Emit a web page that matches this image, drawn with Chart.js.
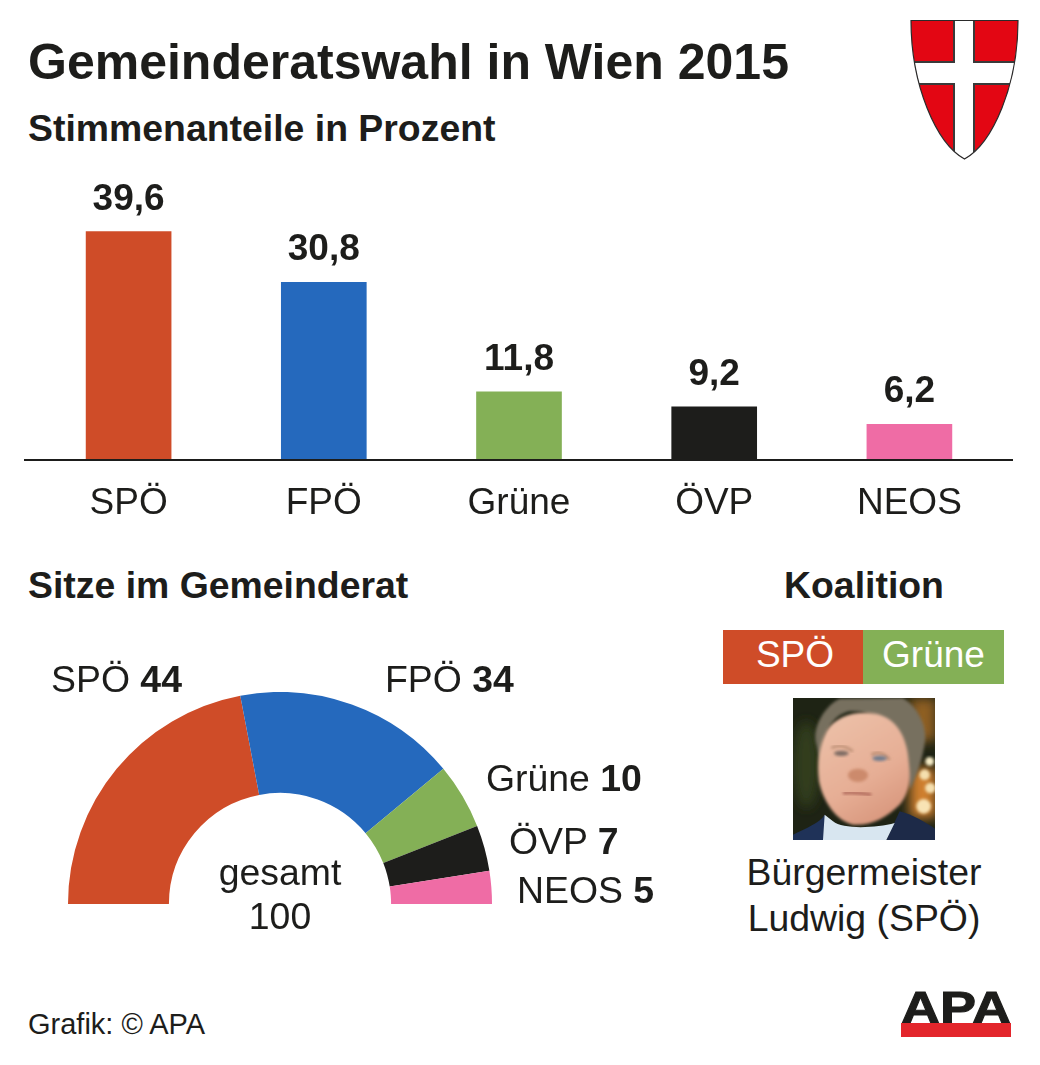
<!DOCTYPE html>
<html lang="de">
<head>
<meta charset="utf-8">
<title>Gemeinderatswahl in Wien 2015</title>
<script src="https://cdn.jsdelivr.net/npm/chart.js@4/dist/chart.umd.min.js"></script>
<style>
  html, body { margin: 0; padding: 0; background: #fff; }
  #page { position: relative; width: 1040px; height: 1065px; overflow: hidden; font-family: "Liberation Sans", Arial, sans-serif; color: #1d1d1b; }
  #page canvas { position: absolute; }
  #page svg { position: absolute; left: 0; top: 0; }
  .t { position: absolute; line-height: 1; white-space: nowrap; font-size: 37.4px; }
  .h { font-weight: bold; }
  .c { text-align: center; }
  .k { color: #fff; height: 54px; line-height: 50px; text-align: center; font-size: 37px; }
</style>
</head>
<body>
<div id="page">
  <svg width="1040" height="1065" viewBox="0 0 1040 1065">
    <defs>
      <clipPath id="shieldClip"><path d="M911 20.5H1018C1018 85 993 143 964.5 159C936 143 911 85 911 20.5Z"/></clipPath>
      <clipPath id="photoClip"><rect width="426" height="426"/></clipPath>
      <filter id="soft" x="-20%" y="-20%" width="140%" height="140%"><feGaussianBlur stdDeviation="4"/></filter>
      <filter id="softer" x="-40%" y="-40%" width="180%" height="180%"><feGaussianBlur stdDeviation="18"/></filter>
      <linearGradient id="skin" x1="0.2" y1="0" x2="0.7" y2="1">
        <stop offset="0" stop-color="#ecc0a8"/>
        <stop offset="0.6" stop-color="#e6ae95"/>
        <stop offset="1" stop-color="#d8967c"/>
      </linearGradient>
    </defs>
    <!-- wappen -->
    <g clip-path="url(#shieldClip)">
      <rect x="905" y="15" width="120" height="150" fill="#e30613"/>
      <rect x="953" y="15" width="22" height="150" fill="#3a3a3a"/>
      <rect x="905" y="61" width="120" height="24" fill="#3a3a3a"/>
      <rect x="955" y="15" width="18" height="150" fill="#fff"/>
      <rect x="905" y="63" width="120" height="20" fill="#fff"/>
    </g>
    <path d="M911 20.5H1018C1018 85 993 143 964.5 159C936 143 911 85 911 20.5Z" fill="none" stroke="#2a2a2a" stroke-width="1.2"/>
    <!-- foto -->
    <g transform="translate(793 698) scale(0.3333)" clip-path="url(#photoClip)">
      <rect width="426" height="426" fill="#1e2314"/>
      <ellipse cx="40" cy="200" rx="40" ry="130" fill="#313d1c" filter="url(#softer)"/>
      <rect x="350" y="0" width="80" height="130" fill="#8f5f24" filter="url(#softer)"/>
      <rect x="350" y="210" width="80" height="150" fill="#cf7f2e" filter="url(#softer)"/>
      <circle cx="410" cy="190" r="13" fill="#f6ecc6" filter="url(#soft)"/>
      <circle cx="395" cy="230" r="16" fill="#f5dfae" filter="url(#soft)"/>
      <circle cx="412" cy="270" r="16" fill="#f5dfae" filter="url(#soft)"/>
      <circle cx="392" cy="325" r="22" fill="#f8e3b4" filter="url(#soft)"/>
      <path d="M0 426V410C40 390 80 375 95 350L130 426Z" fill="#1f3258"/>
      <path d="M280 426L320 340C360 350 400 375 426 392V426Z" fill="#1d2a48"/>
      <path d="M95 350L90 426H280L305 375C250 390 150 395 120 370Z" fill="#d8e6f0"/>
      <path d="M68 130C60 80 100 20 140 2L330 0C380 30 402 90 396 130C390 180 372 230 352 275L320 150C300 70 230 35 170 40C120 50 90 100 82 190Z" fill="#77705f" filter="url(#soft)"/>
      <path d="M100 100C130 50 200 35 260 50C320 70 345 130 348 200C355 250 345 290 320 320C280 360 230 385 180 380C130 370 90 310 78 250C70 190 80 140 100 100Z" fill="url(#skin)" filter="url(#soft)"/>
      <path d="M115 150Q145 135 180 160" stroke="#b78a70" stroke-width="7" fill="none" filter="url(#soft)"/>
      <path d="M235 170Q265 155 290 185" stroke="#b78a70" stroke-width="7" fill="none" filter="url(#soft)"/>
      <ellipse cx="145" cy="166" rx="22" ry="8" fill="#7b6a62" filter="url(#soft)"/>
      <ellipse cx="260" cy="181" rx="22" ry="8" fill="#6f7a8c" filter="url(#soft)"/>
      <ellipse cx="195" cy="232" rx="30" ry="20" fill="#cc8a6c" filter="url(#soft)"/>
      <path d="M150 285Q190 282 235 290" stroke="#a55c50" stroke-width="7" fill="none" filter="url(#soft)"/>
    </g>
    <!-- logo -->
    <text x="901" y="1023" font-family="Liberation Sans" font-weight="bold" font-size="45" textLength="110" lengthAdjust="spacingAndGlyphs" fill="#1d1d1b" stroke="#1d1d1b" stroke-width="1">APA</text>
    <rect x="901" y="1023" width="110" height="14" fill="#e3262c"/>
  </svg>

  <div class="t h" style="left:28px;top:37px;font-size:50px">Gemeinderatswahl in Wien 2015</div>
  <div class="t h" style="left:28px;top:110px">Stimmenanteile in Prozent</div>
  <div class="t h" style="left:28px;top:567px">Sitze im Gemeinderat</div>
  <div class="t h c" style="left:764px;top:567px;width:200px">Koalition</div>

  <canvas id="barChart" width="1040" height="370" style="left:0;top:160px"></canvas>
  <canvas id="seatChart" width="424" height="212" style="left:68px;top:692px"></canvas>

  <div class="t" style="left:51px;top:661px">SPÖ <b>44</b></div>
  <div class="t" style="left:385px;top:661px">FPÖ <b>34</b></div>
  <div class="t" style="left:486px;top:760px">Grüne <b>10</b></div>
  <div class="t" style="left:509px;top:823px">ÖVP <b>7</b></div>
  <div class="t" style="left:517px;top:872px">NEOS <b>5</b></div>
  <div class="t c" style="left:180px;top:854px;width:200px">gesamt</div>
  <div class="t c" style="left:180px;top:898px;width:200px">100</div>

  <div class="t k" style="left:723px;top:630px;width:140px;background:#cf4c28;text-indent:4px">SPÖ</div>
  <div class="t k" style="left:863px;top:630px;width:141px;background:#84b056">Grüne</div>
  <div class="t c" style="left:714px;top:854px;width:300px">Bürgermeister</div>
  <div class="t c" style="left:714px;top:900px;width:300px">Ludwig (SPÖ)</div>

  <div class="t" style="left:28px;top:1010px;font-size:29px">Grafik: © APA</div>
</div>

<script>
const parties = ['SPÖ', 'FPÖ', 'Grüne', 'ÖVP', 'NEOS'];
const voteShares = [39.6, 30.8, 11.8, 9.2, 6.2];
const seats = [44, 34, 10, 7, 5];
const partyColors = ['#cf4c28', '#2569bd', '#84b056', '#1d1d1b', '#ef6ca5'];

const inkColor = '#1d1d1b';
const labelFont = '"Liberation Sans", Arial, sans-serif';

// Werte ueber den Balken, mit Komma wie im Original
const barValueLabels = {
  id: 'barValueLabels',
  afterDatasetsDraw(chart) {
    const { ctx } = chart;
    ctx.save();
    ctx.font = `bold 37px ${labelFont}`;
    ctx.fillStyle = inkColor;
    ctx.textAlign = 'center';
    ctx.textBaseline = 'alphabetic';
    chart.getDatasetMeta(0).data.forEach((bar, i) => {
      ctx.fillText(voteShares[i].toFixed(1).replace('.', ','), bar.x, bar.y - 22);
    });
    ctx.restore();
  }
};

// Grundlinie ragt links und rechts ueber die Kategorien hinaus
const baseline = {
  id: 'baseline',
  afterDatasetsDraw(chart) {
    const { ctx } = chart;
    const y = chart.scales.y.getPixelForValue(0);
    ctx.save();
    ctx.strokeStyle = inkColor;
    ctx.lineWidth = 2;
    ctx.beginPath();
    ctx.moveTo(24, y);
    ctx.lineTo(1013, y);
    ctx.stroke();
    ctx.restore();
  }
};

new Chart(document.getElementById('barChart'), {
  type: 'bar',
  data: {
    labels: parties,
    datasets: [{ data: voteShares, backgroundColor: partyColors, barThickness: 85, borderWidth: 0 }]
  },
  options: {
    responsive: false,
    animation: false,
    devicePixelRatio: 1,
    layout: { padding: { left: 31, right: 33, top: 0, bottom: 0 } },
    plugins: { legend: { display: false }, tooltip: { enabled: false } },
    scales: {
      x: {
        grid: { display: false },
        border: { display: false },
        afterFit: (scale) => { scale.height = 70; },
        ticks: { color: inkColor, font: { family: labelFont, size: 37 }, padding: 14, maxRotation: 0 }
      },
      y: { display: false, min: 0, max: 52 }
    }
  },
  plugins: [barValueLabels, baseline]
});

new Chart(document.getElementById('seatChart'), {
  type: 'doughnut',
  data: {
    labels: parties,
    datasets: [{ data: seats, backgroundColor: partyColors, borderWidth: 0 }]
  },
  options: {
    responsive: false,
    animation: false,
    devicePixelRatio: 1,
    rotation: -90,
    circumference: 180,
    cutout: '52.4%',
    plugins: { legend: { display: false }, tooltip: { enabled: false } }
  }
});
</script>
</body>
</html>
